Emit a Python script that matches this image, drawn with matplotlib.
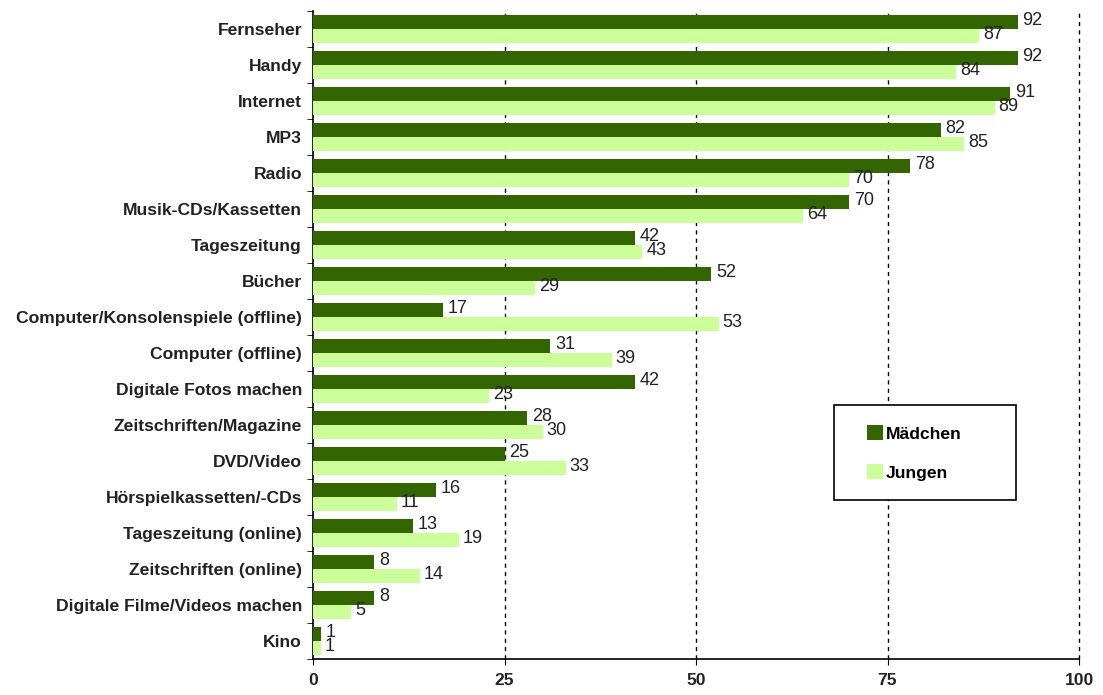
import numpy as np
import matplotlib
matplotlib.use("Agg")
from matplotlib import pyplot as plt
from matplotlib.patches import Rectangle

categories = [
    "Fernseher", "Handy", "Internet", "MP3", "Radio", "Musik-CDs/Kassetten",
    "Tageszeitung", "Bücher", "Computer/Konsolenspiele (offline)",
    "Computer (offline)", "Digitale Fotos machen", "Zeitschriften/Magazine",
    "DVD/Video", "Hörspielkassetten/-CDs", "Tageszeitung (online)",
    "Zeitschriften (online)", "Digitale Filme/Videos machen", "Kino",
]
maedchen = [92, 92, 91, 82, 78, 70, 42, 52, 17, 31, 42, 28, 25, 16, 13, 8, 8, 1]
jungen = [87, 84, 89, 85, 70, 64, 43, 29, 53, 39, 23, 30, 33, 11, 19, 14, 5, 1]
xticks = [0, 25, 50, 75, 100]

dark = "#336600"
light = "#CCFF99"

plt.rcParams["font.family"] = ["Liberation Sans", "DejaVu Sans"]

fig = plt.figure(figsize=(11.03, 6.95), dpi=100)
ax = fig.add_axes([313 / 1103, 36 / 695, 766 / 1103, 648 / 695])

n = len(categories)
y = np.arange(n)
h = 0.385
ax.barh(y - h / 2, maedchen, height=h, color=dark, label="Mädchen", zorder=3)
ax.barh(y + h / 2, jungen, height=h, color=light, label="Jungen", zorder=3)

for i in range(n):
    ax.text(maedchen[i] + 0.6, y[i] - h / 2 - 0.05, str(maedchen[i]),
            fontsize=13, va="center", ha="left", color="#222222", zorder=4)
    ax.text(jungen[i] + 0.5, y[i] + h / 2 - 0.05, str(jungen[i]),
            fontsize=13, va="center", ha="left", color="#222222", zorder=4)

ax.set_ylim(n - 0.5, -0.5)
ax.set_xlim(0, 100)
ax.set_yticks(y)
ax.set_yticklabels(categories, fontsize=12.6, fontweight="bold", color="#222222")
ax.set_yticks(np.arange(n + 1) - 0.5, minor=True)
ax.tick_params(axis="y", which="major", length=0, pad=8)
ax.tick_params(axis="y", which="minor", length=4, direction="out")
ax.set_xticks(xticks)
ax.set_xticklabels([str(t) for t in xticks], fontsize=12.6, fontweight="bold",
                   color="#222222")
ax.tick_params(axis="x", length=4, direction="out", pad=6)

for t in xticks[1:]:
    ax.axvline(t, color="black", linestyle=(0, (3, 3)), linewidth=1,
               zorder=1, clip_on=False)

for s in ["top", "right"]:
    ax.spines[s].set_visible(False)
ax.spines["left"].set_linewidth(1.2)
ax.spines["bottom"].set_linewidth(1.2)

# legend box
ax.add_patch(Rectangle((0.680, 0.245), 0.238, 0.147, transform=ax.transAxes,
                       facecolor="white", edgecolor="black", linewidth=1.2,
                       zorder=5))
leg = ax.legend(loc="center", bbox_to_anchor=(0.785, 0.318), frameon=False,
                handlelength=0.9, handleheight=0.9, handletextpad=0.15,
                labelspacing=1.3, prop={"size": 12.6, "weight": "bold"})
leg.set_zorder(6)

fig.savefig("out.png", dpi=100)
